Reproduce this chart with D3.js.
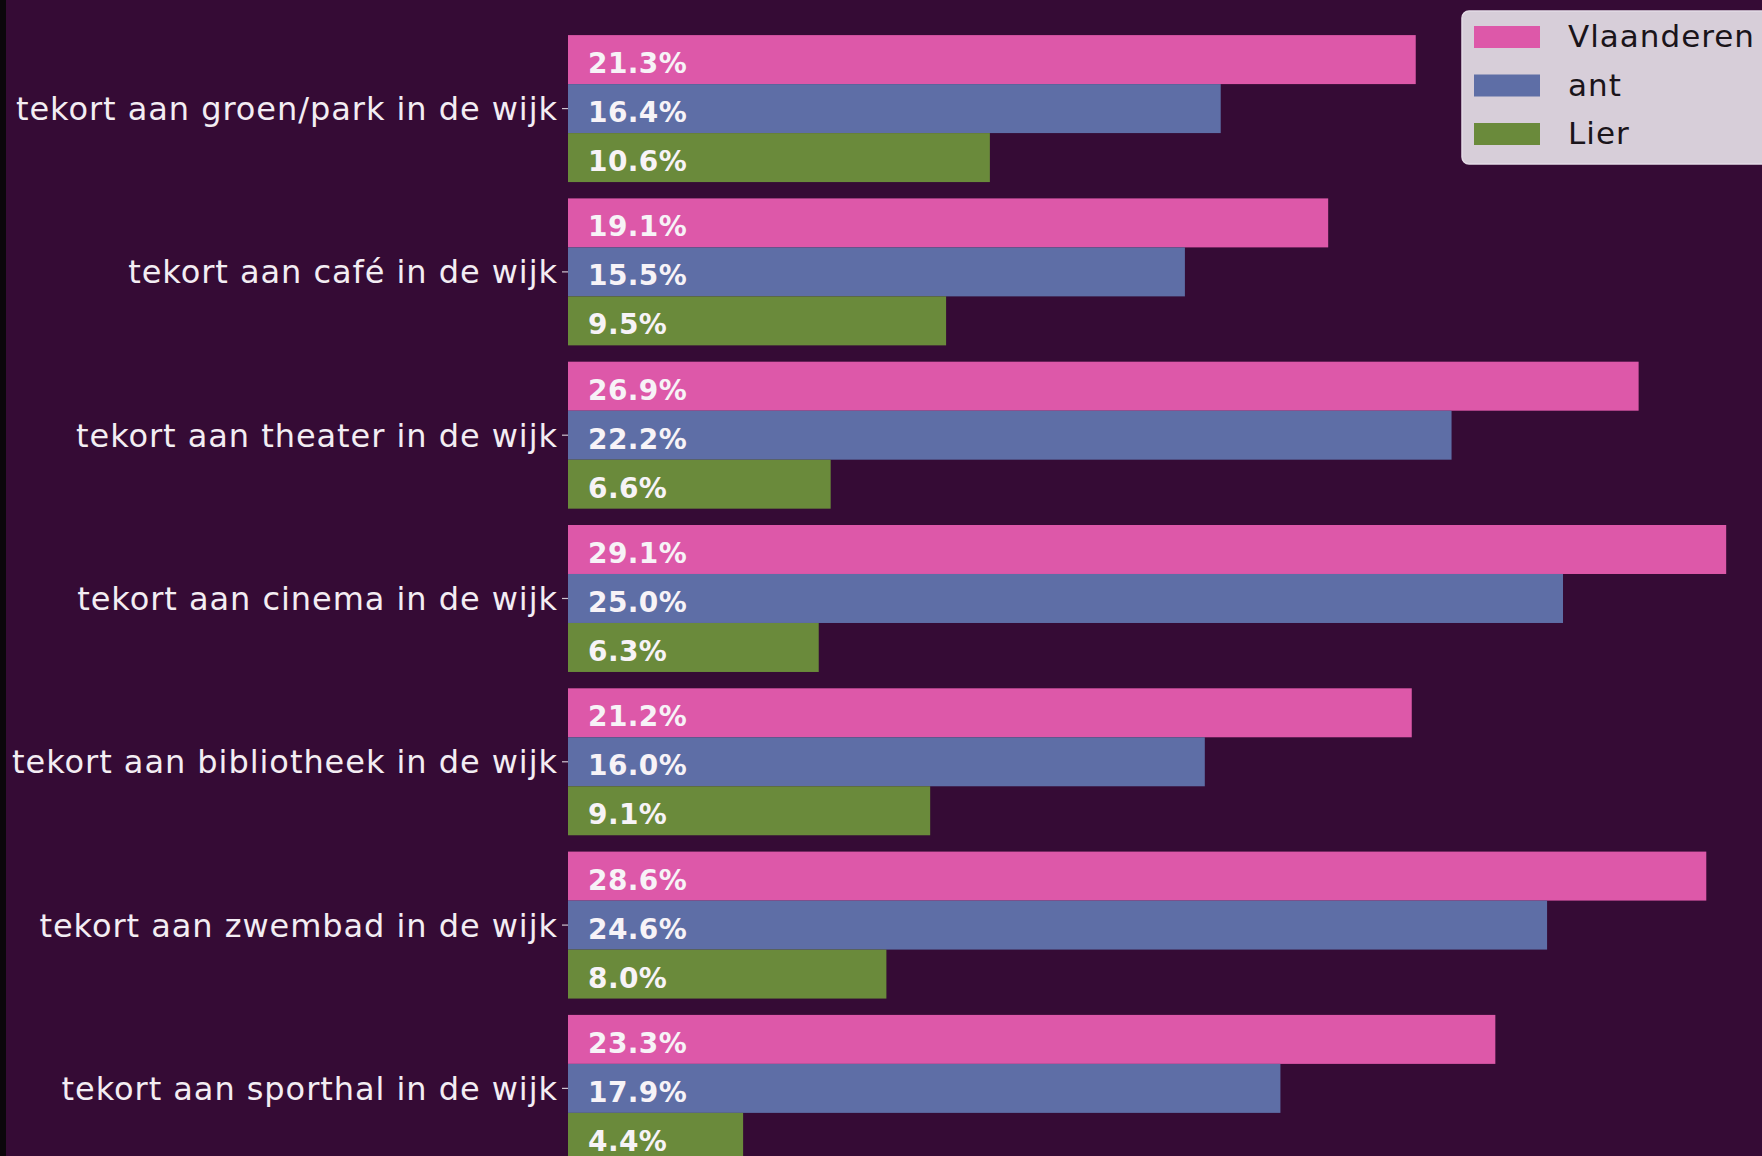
<!DOCTYPE html>
<html>
<head>
<meta charset="utf-8">
<script src="https://cdn.jsdelivr.net/npm/d3@7"></script>
<style>
  body { margin: 0; background: #350b35; overflow: hidden; }
  svg { display: block; }
</style>
</head>
<body>
<div id="chart-area"></div>
<script>
// categories (top to bottom) and series
var categories = [
  "tekort aan groen/park in de wijk",
  "tekort aan café in de wijk",
  "tekort aan theater in de wijk",
  "tekort aan cinema in de wijk",
  "tekort aan bibliotheek in de wijk",
  "tekort aan zwembad in de wijk",
  "tekort aan sporthal in de wijk"
];
var seriesNames = ["Vlaanderen", "ant", "Lier"];
var vlaanderen = [21.3, 19.1, 26.9, 29.1, 21.2, 28.6, 23.3];
var ant = [16.4, 15.5, 22.2, 25.0, 16.0, 24.6, 17.9];
var lier = [10.6, 9.5, 6.6, 6.3, 9.1, 8.0, 4.4];
var colors = ["#dd58a9", "#5e6ea6", "#6a8a3b"];

var seriesValues = [vlaanderen, ant, lier];

var width = 1762, height = 1156;

var svg = d3.select("#chart-area")
    .append("svg")
    .attr("width", width)
    .attr("height", height);

svg.append("rect")
    .attr("width", width).attr("height", height)
    .attr("fill", "#350b35");

// dark strip on the left edge
svg.append("rect")
    .attr("width", 6).attr("height", height)
    .attr("fill", "#0b070b");

// X Scale (percent)
var x = d3.scaleLinear()
    .domain([0, 30])
    .range([568, 1762]);

// Y Scale (one band per category)
var step = 163.3;
var y = d3.scaleBand()
    .domain(categories)
    .range([35.1 - 0.05 * step, 35.1 - 0.05 * step + categories.length * step])
    .paddingInner(0.1)
    .paddingOuter(0.05);

var ySub = d3.scaleBand()
    .domain(seriesNames)
    .range([0, y.bandwidth()]);

// build rows
var rows = [];
categories.forEach(function(c, i) {
  seriesNames.forEach(function(s, j) {
    rows.push({ cat: c, series: s, value: seriesValues[j][i], color: colors[j] });
  });
});

// Y axis: labels + small ticks
var yAxisCall = d3.axisLeft(y).tickSize(6).tickPadding(4);
var yAxisGroup = svg.append("g")
    .attr("transform", "translate(" + x(0) + ",0)")
    .call(yAxisCall);
yAxisGroup.select(".domain").remove();
yAxisGroup.selectAll(".tick line")
    .attr("stroke", "#cfc4cf")
    .attr("stroke-width", 1.2);
yAxisGroup.selectAll(".tick text")
    .attr("fill", "#f3edf3")
    .attr("font-family", "DejaVu Sans")
    .attr("font-size", 32)
    .attr("letter-spacing", "0.95px")
    .attr("dy", null)
    .attr("dominant-baseline", "alphabetic")
    .attr("y", 11.5)
    .attr("x", -10);

// bars
svg.append("g")
  .selectAll("rect")
  .data(rows)
  .enter()
  .append("rect")
    .attr("x", x(0))
    .attr("y", function(d) { return y(d.cat) + ySub(d.series); })
    .attr("width", function(d) { return x(d.value) - x(0); })
    .attr("height", ySub.bandwidth())
    .attr("fill", function(d) { return d.color; });

// value labels
svg.append("g")
  .selectAll("text")
  .data(rows)
  .enter()
  .append("text")
    .attr("x", x(0) + 20)
    .attr("y", function(d) { return y(d.cat) + ySub(d.series) + ySub.bandwidth() / 2 + 13.5; })
    .attr("font-family", "DejaVu Sans")
    .attr("font-weight", "bold")
    .attr("font-size", 28)
    .attr("letter-spacing", "0.4px")
    .attr("fill", "#f7f3f7")
    .text(function(d) { return d.value.toFixed(1) + "%"; });

// legend
var legend = svg.append("g").attr("transform", "translate(1462,11)");
legend.append("rect")
    .attr("width", 330).attr("height", 153)
    .attr("rx", 7)
    .attr("fill", "rgb(215,206,217)")
    .attr("stroke", "#e4dce6")
    .attr("stroke-width", 1.5);

var legendItem = legend.selectAll(".item")
    .data(seriesNames)
    .enter()
    .append("g")
    .attr("transform", function(d, i) { return "translate(12," + (15 + i * 48.5) + ")"; });

legendItem.append("rect")
    .attr("width", 66).attr("height", 22)
    .attr("fill", function(d, i) { return colors[i]; });

legendItem.append("text")
    .attr("x", 94)
    .attr("y", 21)
    .attr("font-family", "DejaVu Sans")
    .attr("font-size", 31)
    .attr("letter-spacing", "1px")
    .attr("fill", "#1a141a")
    .text(function(d) { return d; });
</script>
</body>
</html>
